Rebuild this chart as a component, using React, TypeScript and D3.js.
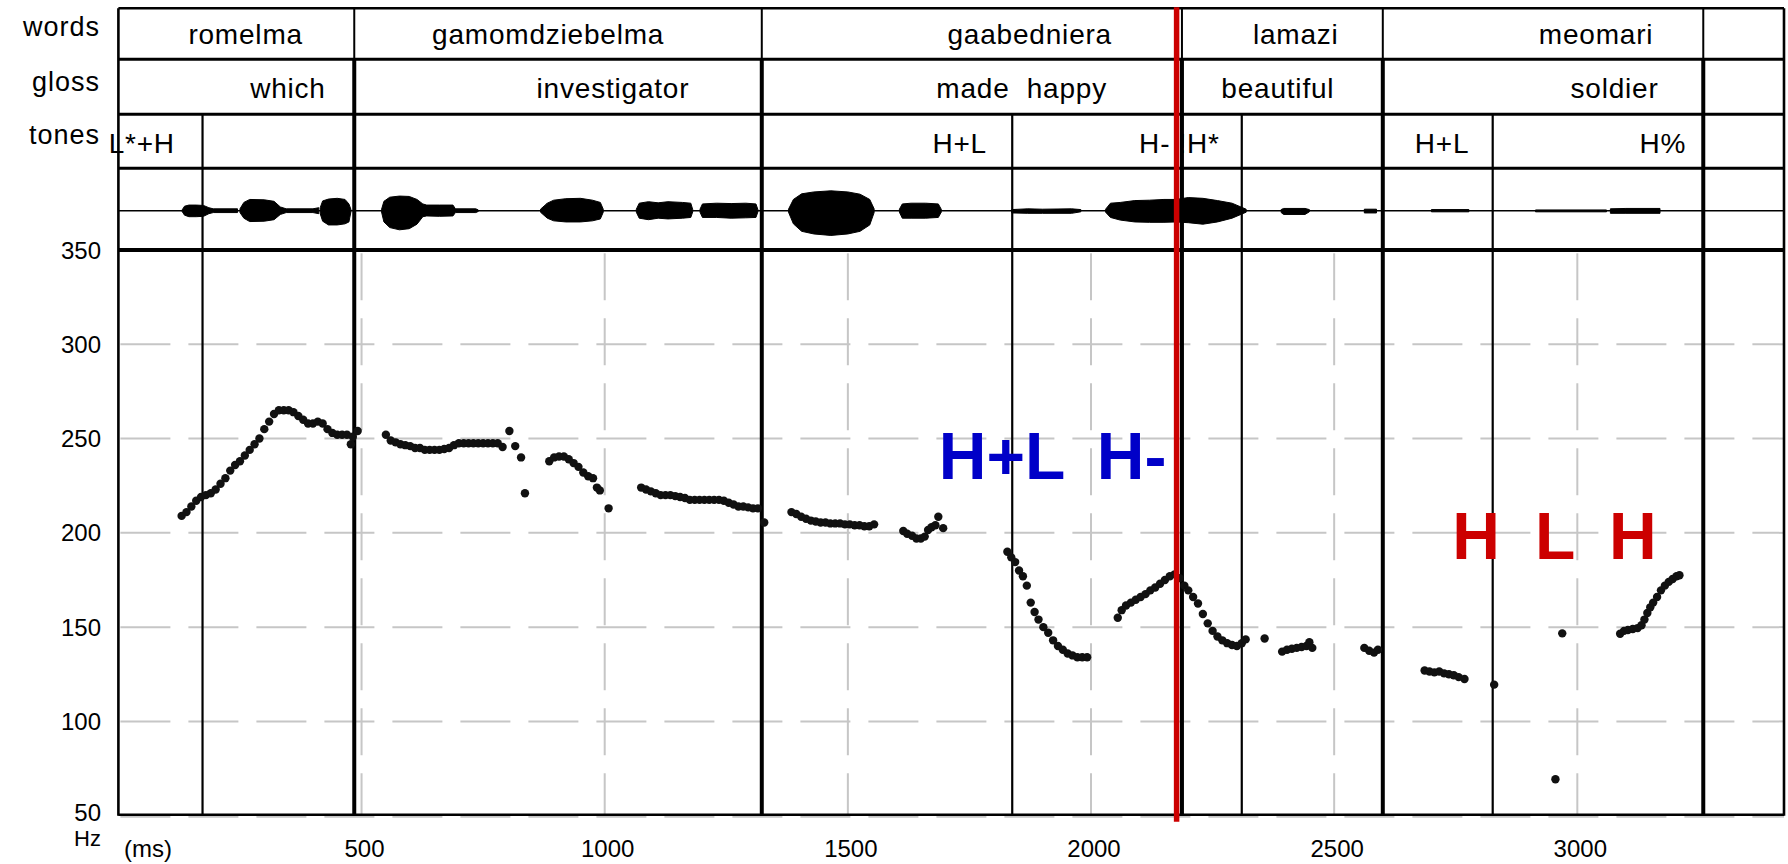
import React from "react";
import * as d3 from "d3";

// ---- figure size ----
const WIDTH = 1788;
const HEIGHT = 864;

// ---- axes ----
const timeDomain: [number, number] = [0, 3425];
const hzDomain: [number, number] = [50, 350];
const hzTicks = [350, 300, 250, 200, 150, 100, 50];
const msTicks = [500, 1000, 1500, 2000, 2500, 3000];

// ---- annotation tiers ----
const tierNames = ["words", "gloss", "tones"];

const wordLabels = ["romelma", "gamomdziebelma", "gaabedniera", "lamazi", "meomari"];
const wordLabelTimes = [147, 648, 1708, 2336, 2924];

const glossLabels = ["which", "investigator", "made  happy", "beautiful", "soldier"];
const glossLabelTimes = [274, 863, 1685, 2271, 2989];

const toneLabels = ["L*+H", "H+L", "H-", "!H*", "H+L", "H%"];
const toneLabelTimes = [-17, 1677, 2102, 2183, 2669, 3131];

// interval boundaries (ms)
const wordBoundaries = [485, 1323, 2187, 2600, 3259];
const toneBoundaries = [173, 1838, 2310, 2826];
const focusTime = 2176;

// ---- large tone annotations on the contour ----
const blueTones = ["H+L", "H-"];
const blueToneTimes = [1687, 2012];
const blueToneHz = 228.4;

const redTones = ["H", "L", "H"];
const redToneTimes = [2743, 2913, 3065];
const redToneHz = 186;

// ---- F0 track: [time ms, Hz] ----
const f0Points: [number, number][] = [
  // romelma
  [130, 209], [140, 211], [150, 214], [160, 217], [170, 219], [180, 220], [190, 221],
  [200, 223], [210, 226], [220, 229], [230, 233], [240, 236], [250, 238], [260, 241],
  [270, 244], [280, 247], [290, 250], [300, 255], [310, 259], [320, 263], [330, 265],
  [340, 265], [350, 265], [360, 264], [370, 262], [380, 260], [390, 258], [400, 258],
  [410, 259], [420, 258], [430, 255], [440, 253], [450, 252], [460, 252], [470, 252],
  [478, 247], [482, 251], [492, 254],
  // gamomdziebelma
  [550, 252], [560, 249], [570, 248], [580, 247], [590, 246.5], [600, 246], [610, 245],
  [620, 245], [630, 244], [640, 244], [650, 244], [660, 244], [670, 244.5], [680, 245],
  [690, 246.5], [700, 247.5], [710, 247.5], [720, 247.5], [730, 247.5], [740, 247.5],
  [750, 247.5], [760, 247.5], [770, 247.5], [780, 247.5], [790, 245.5], [804, 254],
  [816, 246], [828, 240], [836, 221],
  [886, 238], [896, 240], [906, 240.5], [916, 240.5], [926, 239], [936, 237], [946, 235],
  [956, 232], [966, 230], [976, 229], [984, 224], [990, 222.5], [1008, 213],
  [1075, 224], [1085, 223], [1095, 222], [1105, 221], [1115, 220], [1125, 220], [1135, 220],
  [1145, 219.5], [1155, 219], [1165, 218.5], [1175, 217.5], [1185, 217.5], [1195, 217.5],
  [1205, 217.5], [1215, 217.5], [1225, 217.5], [1235, 217.5], [1245, 217], [1255, 216],
  [1265, 215], [1275, 214], [1285, 214], [1295, 213.5], [1305, 213], [1315, 213], [1328, 205.5],
  // gaabedniera
  [1384, 211], [1394, 210], [1404, 208.5], [1414, 207.5], [1424, 206.5], [1434, 206],
  [1444, 205.5], [1454, 205.5], [1464, 205], [1474, 205], [1484, 205], [1494, 204.5],
  [1504, 204.5], [1514, 204], [1524, 204], [1534, 203.5], [1544, 203.5], [1554, 204.5],
  [1614, 201], [1622, 199.5], [1632, 198.5], [1641, 197], [1650, 197], [1658, 198],
  [1665, 201.5], [1672, 203], [1680, 204], [1686, 208.5], [1696, 202.5],
  [1828, 190], [1836, 187], [1844, 184.5], [1852, 180], [1860, 177], [1868, 172], [1876, 163],
  [1884, 158], [1892, 154], [1902, 150], [1912, 147], [1922, 143], [1932, 140], [1942, 138],
  [1952, 136], [1962, 135], [1972, 134], [1982, 134], [1992, 134],
  [2055, 155], [2063, 159], [2072, 161.5], [2082, 163], [2092, 164.5], [2102, 166],
  [2112, 167.5], [2122, 169.5], [2132, 171], [2142, 173], [2152, 175], [2162, 177], [2172, 178],
  // lamazi
  [2182, 176], [2192, 172], [2200, 169.5], [2210, 166], [2220, 162.5], [2230, 157], [2240, 152],
  [2250, 148], [2260, 145], [2270, 143], [2280, 141.5], [2290, 140.5], [2300, 140],
  [2310, 141.5], [2318, 143.5], [2357, 144],
  [2393, 137], [2403, 138], [2413, 138.5], [2423, 139], [2433, 139.5], [2443, 140],
  [2449, 142], [2455, 139],
  [2562, 139], [2572, 137.5], [2582, 136.5], [2590, 138],
  // meomari
  [2686, 127], [2696, 126.5], [2706, 126], [2716, 126.5], [2726, 125.5], [2736, 125],
  [2746, 124.5], [2756, 123.5], [2768, 122.5], [2829, 119.5],
  [2955, 69.3], [2969, 146.7],
  [3088, 146.5], [3096, 148], [3104, 148.5], [3114, 149], [3124, 149.5], [3132, 151],
  [3138, 154], [3144, 157.5], [3150, 160.5], [3156, 163], [3164, 166], [3172, 169.5],
  [3180, 172], [3188, 174], [3196, 175.5], [3204, 177], [3210, 177.5],
];

// ---- waveform amplitude envelope: [time ms, upper, lower] ----
const waveSegments: [number, number, number][][] = [
  [[131, 0.02, 0.02], [136, 0.12, 0.12], [145, 0.15, 0.16], [160, 0.15, 0.16], [175, 0.14, 0.15],
   [186, 0.08, 0.08], [195, 0.05, 0.05], [245, 0.05, 0.05]],
  [[250, 0.05, 0.05], [258, 0.22, 0.2], [270, 0.3, 0.29], [300, 0.29, 0.28], [320, 0.25, 0.24],
   [333, 0.1, 0.1], [345, 0.05, 0.05], [400, 0.05, 0.05], [412, 0.08, 0.08]],
  [[415, 0.08, 0.08], [420, 0.26, 0.28], [432, 0.31, 0.38], [450, 0.33, 0.38], [466, 0.3, 0.35],
   [474, 0.18, 0.3], [478, 0.04, 0.04]],
  [[541, 0.03, 0.03], [546, 0.25, 0.3], [558, 0.36, 0.45], [578, 0.39, 0.51], [598, 0.38, 0.48],
   [614, 0.3, 0.36], [626, 0.18, 0.16], [634, 0.15, 0.14], [660, 0.15, 0.15], [688, 0.15, 0.14],
   [693, 0.05, 0.05], [735, 0.05, 0.05], [740, 0.02, 0.02]],
  [[868, 0.04, 0.04], [882, 0.2, 0.2], [895, 0.28, 0.27], [920, 0.32, 0.3], [950, 0.33, 0.3],
   [975, 0.28, 0.27], [991, 0.22, 0.22], [997, 0.04, 0.04]],
  [[1065, 0.04, 0.04], [1071, 0.2, 0.2], [1090, 0.24, 0.24], [1110, 0.21, 0.2], [1130, 0.24, 0.22],
   [1160, 0.22, 0.2], [1177, 0.2, 0.18], [1181, 0.03, 0.03]],
  [[1196, 0.04, 0.04], [1201, 0.18, 0.18], [1230, 0.2, 0.18], [1260, 0.19, 0.2], [1290, 0.2, 0.19],
   [1311, 0.18, 0.18], [1315, 0.03, 0.03]],
  [[1378, 0.04, 0.04], [1388, 0.3, 0.35], [1405, 0.45, 0.55], [1430, 0.5, 0.62], [1465, 0.53, 0.66],
   [1500, 0.5, 0.62], [1525, 0.44, 0.55], [1545, 0.3, 0.38], [1554, 0.05, 0.05]],
  [[1606, 0.04, 0.04], [1612, 0.18, 0.2], [1630, 0.2, 0.2], [1660, 0.2, 0.2], [1686, 0.18, 0.18],
   [1692, 0.04, 0.04]],
  [[1837, 0.03, 0.06], [1870, 0.05, 0.07], [1900, 0.04, 0.07], [1960, 0.05, 0.07], [1979, 0.03, 0.03]],
  [[2030, 0.04, 0.04], [2040, 0.2, 0.18], [2060, 0.22, 0.25], [2090, 0.27, 0.3], [2120, 0.28, 0.31],
   [2150, 0.3, 0.31], [2175, 0.3, 0.3], [2200, 0.35, 0.32], [2230, 0.33, 0.36], [2260, 0.27, 0.3],
   [2290, 0.2, 0.2], [2319, 0.04, 0.04]],
  [[2391, 0.03, 0.05], [2396, 0.06, 0.1], [2440, 0.06, 0.1], [2449, 0.03, 0.03]],
  [[2562, 0.04, 0.06], [2587, 0.04, 0.06]],
  [[2700, 0.03, 0.03], [2777, 0.03, 0.03]],
  [[2914, 0.02, 0.03], [3060, 0.02, 0.03]],
  [[3068, 0.05, 0.07], [3100, 0.06, 0.07], [3170, 0.06, 0.07]],
];

// ---- layout ----
const LEFT = 118.4;
const RIGHT = 1784;
const TABLE_TOP = 8.3;
const ROW_LINES = [59.3, 114.3, 168.3];
const PLOT_TOP = 250;
const PLOT_BOTTOM = 815.7;
const WAVE_CENTER = 210.7;
const WAVE_HALF = 37.5;
const tierBaselines = [44.3, 98.3, 152.7];
const tierNameBaselines = [35.7, 90.5, 143.5];

const FONT = "'Liberation Sans', Arial, sans-serif";

export default function App() {
  const x = d3.scaleLinear().domain(timeDomain).range([LEFT, RIGHT]);
  const y = d3.scaleLinear().domain(hzDomain).range([PLOT_BOTTOM, PLOT_TOP]);
  const amp = d3
    .scaleLinear()
    .domain([-1, 1])
    .range([WAVE_CENTER + WAVE_HALF, WAVE_CENTER - WAVE_HALF]);

  const waveArea = d3
    .area<[number, number, number]>()
    .x((d) => x(d[0]))
    .y0((d) => amp(-d[2]))
    .y1((d) => amp(d[1]))
    .curve(d3.curveLinear);

  const gridColor = "#c6c6c6";

  const tierRows = [
    { labels: wordLabels, times: wordLabelTimes },
    { labels: glossLabels, times: glossLabelTimes },
    { labels: toneLabels, times: toneLabelTimes },
  ];

  return (
    <div style={{ position: "absolute", left: 0, top: 0, background: "#fff" }}>
      <svg width={WIDTH} height={HEIGHT} viewBox={`0 0 ${WIDTH} ${HEIGHT}`} style={{ display: "block" }}>
        <rect x={0} y={0} width={WIDTH} height={HEIGHT} fill="#fff" />

        {/* grid */}
        <g>
          {hzTicks
            .filter((h) => h < 350)
            .map((h) => (
              <line
                key={"hg" + h}
                x1={LEFT + 2}
                x2={RIGHT}
                y1={y(h) + (h === 50 ? 1 : 0)}
                y2={y(h) + (h === 50 ? 1 : 0)}
                stroke={gridColor}
                strokeWidth={2}
                strokeDasharray="50 18"
              />
            ))}
          {msTicks.map((t) => (
            <line
              key={"vg" + t}
              x1={x(t)}
              x2={x(t)}
              y1={PLOT_TOP + 3.3}
              y2={PLOT_BOTTOM}
              stroke={gridColor}
              strokeWidth={2}
              strokeDasharray="47 18"
            />
          ))}
        </g>

        {/* waveform */}
        <line x1={LEFT} x2={RIGHT} y1={WAVE_CENTER} y2={WAVE_CENTER} stroke="#000" strokeWidth={1.6} />
        {waveSegments.map((seg, i) => (
          <path key={"w" + i} d={waveArea(seg) || ""} fill="#000" stroke="#000" strokeWidth={1} />
        ))}

        {/* table frame */}
        <line x1={LEFT} x2={RIGHT} y1={TABLE_TOP} y2={TABLE_TOP} stroke="#000" strokeWidth={2.6} />
        {ROW_LINES.map((ry) => (
          <line key={"r" + ry} x1={LEFT} x2={RIGHT} y1={ry} y2={ry} stroke="#000" strokeWidth={3} />
        ))}
        <line x1={LEFT} x2={RIGHT} y1={PLOT_TOP} y2={PLOT_TOP} stroke="#000" strokeWidth={4} />
        <line x1={LEFT} x2={RIGHT} y1={PLOT_BOTTOM - 1} y2={PLOT_BOTTOM - 1} stroke="#000" strokeWidth={2.4} />
        <line x1={LEFT} x2={LEFT} y1={TABLE_TOP} y2={PLOT_BOTTOM} stroke="#000" strokeWidth={2.6} />
        <line x1={RIGHT} x2={RIGHT} y1={TABLE_TOP} y2={PLOT_BOTTOM} stroke="#000" strokeWidth={2.6} />

        {/* word boundaries */}
        {wordBoundaries.map((t) => (
          <g key={"wb" + t}>
            <line x1={x(t)} x2={x(t)} y1={TABLE_TOP} y2={ROW_LINES[0]} stroke="#000" strokeWidth={2} />
            <line x1={x(t)} x2={x(t)} y1={ROW_LINES[0]} y2={PLOT_BOTTOM} stroke="#000" strokeWidth={4} />
          </g>
        ))}
        {/* tone boundaries */}
        {toneBoundaries.map((t) => (
          <line key={"tb" + t} x1={x(t)} x2={x(t)} y1={ROW_LINES[1]} y2={PLOT_BOTTOM} stroke="#000" strokeWidth={2.2} />
        ))}

        {/* F0 points */}
        <g fill="#111">
          {f0Points.map((d, i) => (
            <circle key={"p" + i} cx={x(d[0])} cy={y(d[1])} r={4.2} />
          ))}
        </g>

        {/* tier labels */}
        <g fontFamily={FONT} fontSize={27} fill="#000">
          {tierNames.map((n, i) => (
            <text key={n} x={100} y={tierNameBaselines[i]} textAnchor="end" letterSpacing={1}>
              {n}
            </text>
          ))}
        </g>
        <g fontFamily={FONT} fontSize={28} fill="#000" letterSpacing={0.8}>
          {tierRows.map((row, ri) =>
            row.labels.map((lab, li) => (
              <text
                key={ri + "-" + li}
                x={x(row.times[li]) - 1.5}
                y={tierBaselines[ri]}
                style={{ whiteSpace: "pre" }}
              >
                {lab}
              </text>
            ))
          )}
        </g>

        {/* axes labels */}
        <g fontFamily={FONT} fontSize={24} fill="#000">
          {hzTicks.map((h) => (
            <text
              key={"yl" + h}
              x={101}
              y={y(h) - (h === 50 ? 3.5 : 0)}
              textAnchor="end"
              dominantBaseline="central"
            >
              {h}
            </text>
          ))}
          <text x={101} y={846} textAnchor="end" fontSize={22}>
            Hz
          </text>
          {msTicks.map((t) => (
            <text key={"xl" + t} x={x(t) + 3} y={857} textAnchor="middle">
              {t}
            </text>
          ))}
          <text x={124} y={857}>
            (ms)
          </text>
        </g>

        {/* tone annotations */}
        <g fontFamily={FONT} fontWeight="bold" fontSize={66}>
          {blueTones.map((s, i) => (
            <text key={"bt" + i} x={x(blueToneTimes[i])} y={y(blueToneHz)} fill="#0000c8">
              {s}
            </text>
          ))}
          {redTones.map((s, i) => (
            <text key={"rt" + i} x={x(redToneTimes[i])} y={y(redToneHz)} fill="#cc0000">
              {s}
            </text>
          ))}
        </g>

        {/* focus marker */}
        <line x1={x(focusTime)} x2={x(focusTime)} y1={TABLE_TOP - 1} y2={PLOT_BOTTOM + 6} stroke="#cc0000" strokeWidth={5.5} />
      </svg>
    </div>
  );
}
